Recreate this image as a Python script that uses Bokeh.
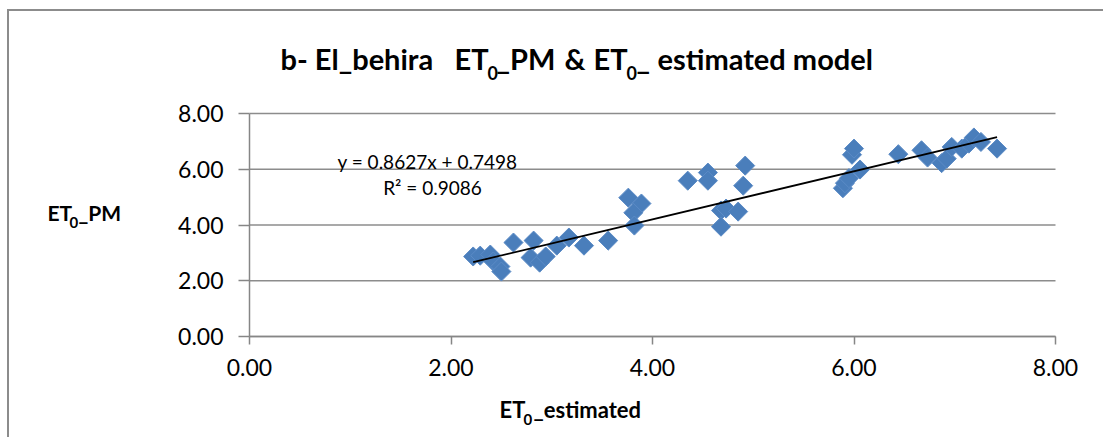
import numpy as np
from bokeh.plotting import figure
from bokeh.models import FixedTicker, PrintfTickFormatter, Label, Range1d, ColumnDataSource
from bokeh.embed import file_html
from bokeh.resources import INLINE

# ---- data ----
et0_estimated = [2.22, 2.29, 2.39, 2.42, 2.49, 2.50, 2.62, 2.82, 2.79, 2.88,
                 2.94, 3.05, 3.17, 3.32, 3.56, 3.76, 3.89, 3.81, 3.82, 4.35,
                 4.55, 4.55, 4.68, 4.68, 4.73, 4.85, 4.90, 4.92,
                 5.89, 5.91, 5.95, 5.98, 6.00, 6.06, 6.44, 6.67, 6.73, 6.87,
                 6.92, 6.97, 7.07, 7.14, 7.19, 7.26, 7.42]
et0_pm = [2.87, 2.90, 2.94, 2.69, 2.51, 2.33, 3.37, 3.44, 2.83, 2.65,
          2.87, 3.26, 3.55, 3.26, 3.44, 4.98, 4.77, 4.44, 3.98, 5.59,
          5.88, 5.59, 4.52, 3.94, 4.59, 4.48, 5.41, 6.13,
          5.32, 5.50, 5.68, 6.52, 6.74, 5.99, 6.54, 6.68, 6.42, 6.22,
          6.38, 6.80, 6.74, 6.92, 7.14, 6.98, 6.74]
trend_slope = 0.8627
trend_intercept = 0.7498
r_squared = 0.9086
x_ticks = [0, 2, 4, 6, 8]
y_ticks = [0, 2, 4, 6, 8]

FONT = "Lato"
OX, OY = 9, 11                         # content origin on the page (margin + border)
PW, PH = 1105, 439
FL, FR, FT, FB = 249, 1055, 113, 336   # where the 0..8 axes sit on the page
X0, X1 = x_ticks[0], x_ticks[-1]
Y0, Y1 = y_ticks[0], y_ticks[-1]

def xs(px):
    return X0 + (px - FL) / (FR - FL) * (X1 - X0)

def ys(py):
    return Y0 + (FB - py) / (FB - FT) * (Y1 - Y0)

p = figure(width=PW - OX, height=PH - OY, output_backend="svg", toolbar_location=None,
           title=None,
           x_range=Range1d(xs(OX), xs(PW)), y_range=Range1d(ys(PH), ys(OY)),
           min_border=0, margin=(9, 0, 0, 7))
p.styles = {"border-top": "2px solid #8c8c8c", "border-left": "2px solid #8c8c8c"}
p.outline_line_color = None
p.background_fill_color = "white"
p.border_fill_color = "white"

for ax in (p.xaxis[0], p.yaxis[0]):
    ax.fixed_location = 0
    ax.bounds = (0, 8)
    ax.axis_line_color = "#868686"
    ax.axis_line_width = 1.5
    ax.major_tick_line_color = "#868686"
    ax.major_tick_line_width = 1.5
    ax.minor_tick_line_color = None
    ax.major_tick_in = 0
    ax.major_label_text_font = FONT
    ax.major_label_text_font_size = "23px"
    ax.major_label_text_color = "black"
    ax.formatter = PrintfTickFormatter(format="%.2f")

p.xaxis[0].ticker = FixedTicker(ticks=x_ticks)
p.yaxis[0].ticker = FixedTicker(ticks=y_ticks)
p.xaxis[0].major_tick_out = 8
p.yaxis[0].major_tick_out = 11
p.xaxis[0].major_label_standoff = 14
p.yaxis[0].major_label_standoff = 15
p.xgrid.grid_line_color = None
p.ygrid.grid_line_color = None

# horizontal gridlines spanning the x axis extent
p.segment(x0=[X0] * len(y_ticks), x1=[X1] * len(y_ticks), y0=y_ticks, y1=y_ticks,
          line_color="#8c8c8c", line_width=1.5, level="underlay")

src = ColumnDataSource(dict(x=et0_estimated, y=et0_pm))
p.scatter("x", "y", source=src, marker="square", size=13.5, angle=np.pi / 4,
          fill_color="#4A7EBB", line_color="#5B8BC6", line_width=1)

xl = np.array([min(et0_estimated), max(et0_estimated)])
p.line(xl, trend_slope * xl + trend_intercept, line_color="black", line_width=1.8)

def lab(text, px, py, size, bold=False, align="left"):
    p.add_layout(Label(x=px - OX, y=py - OY, x_units="canvas", y_units="canvas",
                       text=text, text_font=FONT,
                       text_font_size=size, text_font_style="bold" if bold else "normal",
                       text_align=align, text_baseline="middle", text_color="black"))

# title
TS, SS = "29px", "18px"
lab("b- El_behira", 278, 56, TS, True)
lab("ET", 452, 56, TS, True)
lab("0", 485, 70, SS, True)
lab("_PM", 494, 56, TS, True)
lab("&", 562, 56, TS, True)
lab("ET", 591, 56, TS, True)
lab("0", 624, 70, SS, True)
lab("_", 634, 56, TS, True)
lab("estimated model", 655, 56, TS, True)

# y axis label
lab("ET", 45, 210, "21px", True)
lab("0", 67, 220, "15px", True)
lab("_PM", 76, 210, "21px", True)

# x axis label
lab("ET", 497, 407, "22px", True)
lab("0", 521, 417, "15px", True)
lab("_estimated", 531, 407, "22px", True)

# trendline equation
lab("y = %.4fx + %.4f" % (trend_slope, trend_intercept), 425, 159, "19px", False, "center")
lab("R² = %.4f" % r_squared, 430, 185, "19px", False, "center")

open("out.html", "w").write(file_html(p, INLINE))
